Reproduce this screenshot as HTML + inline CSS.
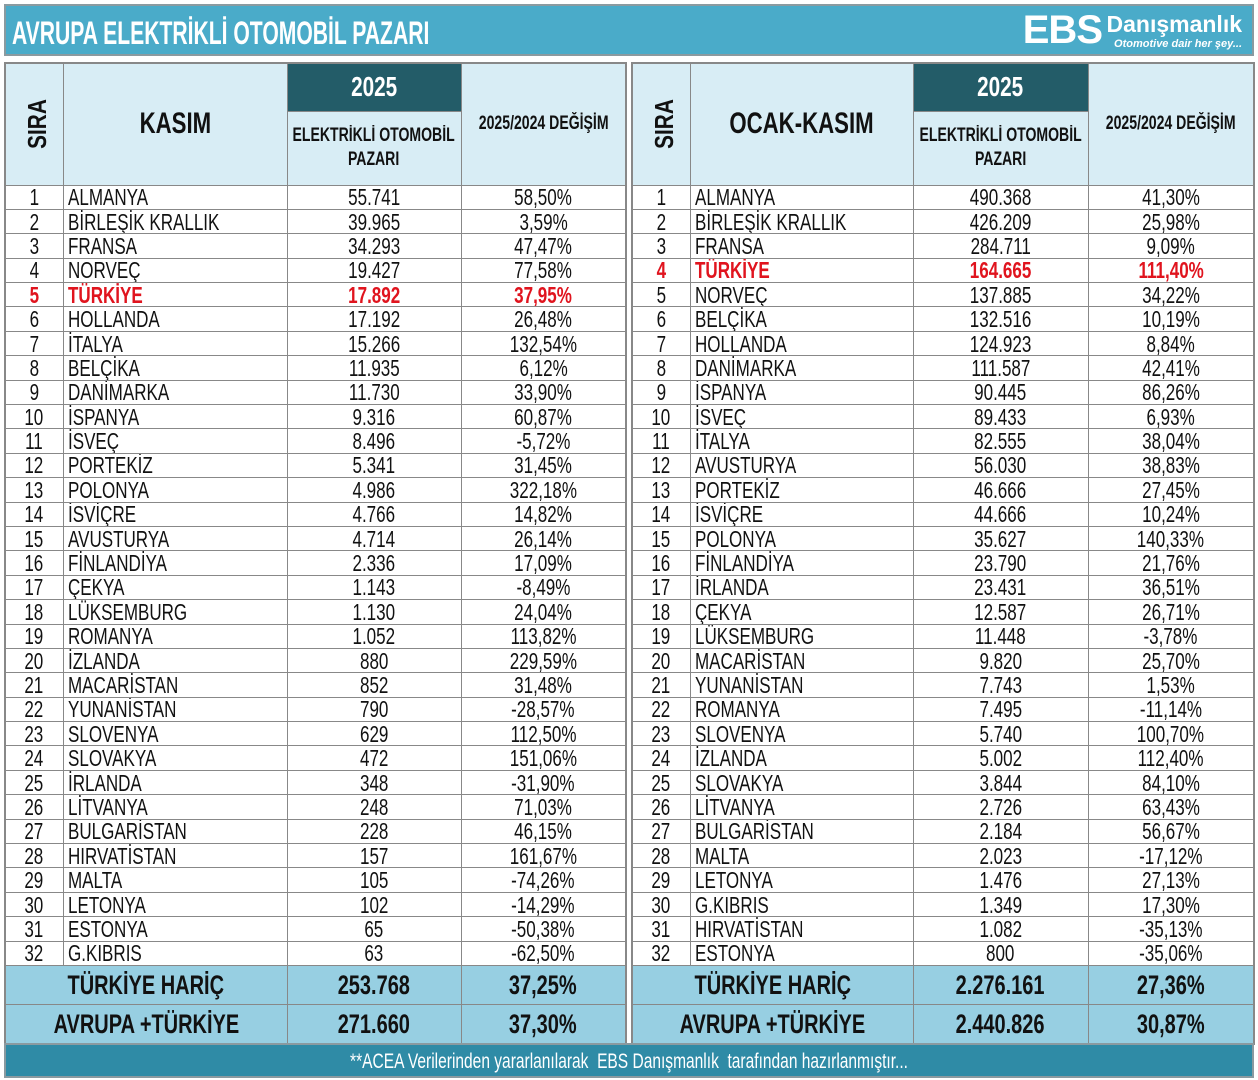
<!DOCTYPE html>
<html><head><meta charset="utf-8"><style>
*{margin:0;padding:0;box-sizing:border-box}
body{width:1258px;height:1080px;background:#fff;position:relative;overflow:hidden;font-family:"Liberation Sans",sans-serif;color:#111}
span{display:inline-block;transform:scaleX(.74);transform-origin:center}
td.c span{transform-origin:left}
td.sm span,td.big span,tr.s span{margin:0 -60px}
.title{position:absolute;left:4px;top:4px;width:1250px;height:52px;background:#4aabc9;border:2px solid #8a9aa0}
.title .t{position:absolute;left:6px;top:9px;font-size:32px;font-weight:bold;color:#fff;transform:scaleX(.66);transform-origin:left;white-space:nowrap}
.logo{position:absolute;right:8px;top:4px;color:#fff}
.logo .e{position:absolute;right:142px;top:-2px;font-size:40px;font-weight:bold;letter-spacing:-1px}
.logo .d{position:absolute;right:2px;top:1px;font-size:23px;font-weight:bold;white-space:nowrap}
.logo .s{position:absolute;right:2px;top:28px;font-size:11px;font-style:italic;font-weight:bold;white-space:nowrap}
table{position:absolute;top:62px;border-collapse:collapse;table-layout:fixed;border:2px solid #888}
td{border:1px solid #888;font-size:23px;height:24.4px;line-height:22px;padding:0;white-space:nowrap;overflow:hidden}
td.n{text-align:center}
td.c{padding-left:4px}
tr.h td{background:#d8edf5;font-weight:bold;text-align:center}
td.yr{background:#235c68!important;color:#fff;font-size:28px;height:48px}
td.big{font-size:30px}
td.sm{font-size:19px;line-height:24px}
.sira{transform:rotate(-90deg) scaleX(.8);font-size:26px;font-weight:bold}
tr.r td{color:#e0141e;font-weight:bold}
tr.s td{background:#97cfe2;font-weight:bold;font-size:27px;text-align:center;height:39px}
.foot{position:absolute;left:4px;top:1043px;width:1250px;height:35px;background:#2f8ba6;color:#fff;text-align:center;font-size:21px;line-height:33px;border:2px solid #8a9aa0}
</style></head><body>
<div class="title"><div class="t">AVRUPA ELEKTRİKLİ OTOMOBİL PAZARI</div>
<div class="logo"><div class="e">EBS</div><div class="d">Danışmanlık</div><div class="s">Otomotive dair her şey...</div></div></div>

<table style="left:4px;width:621px">
<colgroup><col style="width:58px"><col style="width:224px"><col style="width:174px"><col style="width:165px"></colgroup>
<tr class="h"><td rowspan="2" style="height:122px"><span class="sira">SIRA</span></td><td rowspan="2" class="big"><span>KASIM</span></td><td class="yr"><span>2025</span></td><td rowspan="2" class="sm"><span>2025/2024 DEĞİŞİM</span></td></tr>
<tr class="h"><td class="sm" style="height:74px"><span>ELEKTRİKLİ OTOMOBİL<br>PAZARI</span></td></tr>
<tr><td class="n"><span>1</span></td><td class="c"><span>ALMANYA</span></td><td class="n"><span>55.741</span></td><td class="n"><span>58,50%</span></td></tr>
<tr><td class="n"><span>2</span></td><td class="c"><span>BİRLEŞİK KRALLIK</span></td><td class="n"><span>39.965</span></td><td class="n"><span>3,59%</span></td></tr>
<tr><td class="n"><span>3</span></td><td class="c"><span>FRANSA</span></td><td class="n"><span>34.293</span></td><td class="n"><span>47,47%</span></td></tr>
<tr><td class="n"><span>4</span></td><td class="c"><span>NORVEÇ</span></td><td class="n"><span>19.427</span></td><td class="n"><span>77,58%</span></td></tr>
<tr class="r"><td class="n"><span>5</span></td><td class="c"><span>TÜRKİYE</span></td><td class="n"><span>17.892</span></td><td class="n"><span>37,95%</span></td></tr>
<tr><td class="n"><span>6</span></td><td class="c"><span>HOLLANDA</span></td><td class="n"><span>17.192</span></td><td class="n"><span>26,48%</span></td></tr>
<tr><td class="n"><span>7</span></td><td class="c"><span>İTALYA</span></td><td class="n"><span>15.266</span></td><td class="n"><span>132,54%</span></td></tr>
<tr><td class="n"><span>8</span></td><td class="c"><span>BELÇİKA</span></td><td class="n"><span>11.935</span></td><td class="n"><span>6,12%</span></td></tr>
<tr><td class="n"><span>9</span></td><td class="c"><span>DANİMARKA</span></td><td class="n"><span>11.730</span></td><td class="n"><span>33,90%</span></td></tr>
<tr><td class="n"><span>10</span></td><td class="c"><span>İSPANYA</span></td><td class="n"><span>9.316</span></td><td class="n"><span>60,87%</span></td></tr>
<tr><td class="n"><span>11</span></td><td class="c"><span>İSVEÇ</span></td><td class="n"><span>8.496</span></td><td class="n"><span>-5,72%</span></td></tr>
<tr><td class="n"><span>12</span></td><td class="c"><span>PORTEKİZ</span></td><td class="n"><span>5.341</span></td><td class="n"><span>31,45%</span></td></tr>
<tr><td class="n"><span>13</span></td><td class="c"><span>POLONYA</span></td><td class="n"><span>4.986</span></td><td class="n"><span>322,18%</span></td></tr>
<tr><td class="n"><span>14</span></td><td class="c"><span>İSVİÇRE</span></td><td class="n"><span>4.766</span></td><td class="n"><span>14,82%</span></td></tr>
<tr><td class="n"><span>15</span></td><td class="c"><span>AVUSTURYA</span></td><td class="n"><span>4.714</span></td><td class="n"><span>26,14%</span></td></tr>
<tr><td class="n"><span>16</span></td><td class="c"><span>FİNLANDİYA</span></td><td class="n"><span>2.336</span></td><td class="n"><span>17,09%</span></td></tr>
<tr><td class="n"><span>17</span></td><td class="c"><span>ÇEKYA</span></td><td class="n"><span>1.143</span></td><td class="n"><span>-8,49%</span></td></tr>
<tr><td class="n"><span>18</span></td><td class="c"><span>LÜKSEMBURG</span></td><td class="n"><span>1.130</span></td><td class="n"><span>24,04%</span></td></tr>
<tr><td class="n"><span>19</span></td><td class="c"><span>ROMANYA</span></td><td class="n"><span>1.052</span></td><td class="n"><span>113,82%</span></td></tr>
<tr><td class="n"><span>20</span></td><td class="c"><span>İZLANDA</span></td><td class="n"><span>880</span></td><td class="n"><span>229,59%</span></td></tr>
<tr><td class="n"><span>21</span></td><td class="c"><span>MACARİSTAN</span></td><td class="n"><span>852</span></td><td class="n"><span>31,48%</span></td></tr>
<tr><td class="n"><span>22</span></td><td class="c"><span>YUNANİSTAN</span></td><td class="n"><span>790</span></td><td class="n"><span>-28,57%</span></td></tr>
<tr><td class="n"><span>23</span></td><td class="c"><span>SLOVENYA</span></td><td class="n"><span>629</span></td><td class="n"><span>112,50%</span></td></tr>
<tr><td class="n"><span>24</span></td><td class="c"><span>SLOVAKYA</span></td><td class="n"><span>472</span></td><td class="n"><span>151,06%</span></td></tr>
<tr><td class="n"><span>25</span></td><td class="c"><span>İRLANDA</span></td><td class="n"><span>348</span></td><td class="n"><span>-31,90%</span></td></tr>
<tr><td class="n"><span>26</span></td><td class="c"><span>LİTVANYA</span></td><td class="n"><span>248</span></td><td class="n"><span>71,03%</span></td></tr>
<tr><td class="n"><span>27</span></td><td class="c"><span>BULGARİSTAN</span></td><td class="n"><span>228</span></td><td class="n"><span>46,15%</span></td></tr>
<tr><td class="n"><span>28</span></td><td class="c"><span>HIRVATİSTAN</span></td><td class="n"><span>157</span></td><td class="n"><span>161,67%</span></td></tr>
<tr><td class="n"><span>29</span></td><td class="c"><span>MALTA</span></td><td class="n"><span>105</span></td><td class="n"><span>-74,26%</span></td></tr>
<tr><td class="n"><span>30</span></td><td class="c"><span>LETONYA</span></td><td class="n"><span>102</span></td><td class="n"><span>-14,29%</span></td></tr>
<tr><td class="n"><span>31</span></td><td class="c"><span>ESTONYA</span></td><td class="n"><span>65</span></td><td class="n"><span>-50,38%</span></td></tr>
<tr><td class="n"><span>32</span></td><td class="c"><span>G.KIBRIS</span></td><td class="n"><span>63</span></td><td class="n"><span>-62,50%</span></td></tr>
<tr class="s"><td colspan="2"><span>TÜRKİYE HARİÇ</span></td><td><span>253.768</span></td><td><span>37,25%</span></td></tr>
<tr class="s"><td colspan="2"><span>AVRUPA +TÜRKİYE</span></td><td><span>271.660</span></td><td><span>37,30%</span></td></tr>
</table>

<table style="left:631px;width:622px">
<colgroup><col style="width:58px"><col style="width:223px"><col style="width:175px"><col style="width:166px"></colgroup>
<tr class="h"><td rowspan="2" style="height:122px"><span class="sira">SIRA</span></td><td rowspan="2" class="big"><span>OCAK-KASIM</span></td><td class="yr"><span>2025</span></td><td rowspan="2" class="sm"><span>2025/2024 DEĞİŞİM</span></td></tr>
<tr class="h"><td class="sm" style="height:74px"><span>ELEKTRİKLİ OTOMOBİL<br>PAZARI</span></td></tr>
<tr><td class="n"><span>1</span></td><td class="c"><span>ALMANYA</span></td><td class="n"><span>490.368</span></td><td class="n"><span>41,30%</span></td></tr>
<tr><td class="n"><span>2</span></td><td class="c"><span>BİRLEŞİK KRALLIK</span></td><td class="n"><span>426.209</span></td><td class="n"><span>25,98%</span></td></tr>
<tr><td class="n"><span>3</span></td><td class="c"><span>FRANSA</span></td><td class="n"><span>284.711</span></td><td class="n"><span>9,09%</span></td></tr>
<tr class="r"><td class="n"><span>4</span></td><td class="c"><span>TÜRKİYE</span></td><td class="n"><span>164.665</span></td><td class="n"><span>111,40%</span></td></tr>
<tr><td class="n"><span>5</span></td><td class="c"><span>NORVEÇ</span></td><td class="n"><span>137.885</span></td><td class="n"><span>34,22%</span></td></tr>
<tr><td class="n"><span>6</span></td><td class="c"><span>BELÇİKA</span></td><td class="n"><span>132.516</span></td><td class="n"><span>10,19%</span></td></tr>
<tr><td class="n"><span>7</span></td><td class="c"><span>HOLLANDA</span></td><td class="n"><span>124.923</span></td><td class="n"><span>8,84%</span></td></tr>
<tr><td class="n"><span>8</span></td><td class="c"><span>DANİMARKA</span></td><td class="n"><span>111.587</span></td><td class="n"><span>42,41%</span></td></tr>
<tr><td class="n"><span>9</span></td><td class="c"><span>İSPANYA</span></td><td class="n"><span>90.445</span></td><td class="n"><span>86,26%</span></td></tr>
<tr><td class="n"><span>10</span></td><td class="c"><span>İSVEÇ</span></td><td class="n"><span>89.433</span></td><td class="n"><span>6,93%</span></td></tr>
<tr><td class="n"><span>11</span></td><td class="c"><span>İTALYA</span></td><td class="n"><span>82.555</span></td><td class="n"><span>38,04%</span></td></tr>
<tr><td class="n"><span>12</span></td><td class="c"><span>AVUSTURYA</span></td><td class="n"><span>56.030</span></td><td class="n"><span>38,83%</span></td></tr>
<tr><td class="n"><span>13</span></td><td class="c"><span>PORTEKİZ</span></td><td class="n"><span>46.666</span></td><td class="n"><span>27,45%</span></td></tr>
<tr><td class="n"><span>14</span></td><td class="c"><span>İSVİÇRE</span></td><td class="n"><span>44.666</span></td><td class="n"><span>10,24%</span></td></tr>
<tr><td class="n"><span>15</span></td><td class="c"><span>POLONYA</span></td><td class="n"><span>35.627</span></td><td class="n"><span>140,33%</span></td></tr>
<tr><td class="n"><span>16</span></td><td class="c"><span>FİNLANDİYA</span></td><td class="n"><span>23.790</span></td><td class="n"><span>21,76%</span></td></tr>
<tr><td class="n"><span>17</span></td><td class="c"><span>İRLANDA</span></td><td class="n"><span>23.431</span></td><td class="n"><span>36,51%</span></td></tr>
<tr><td class="n"><span>18</span></td><td class="c"><span>ÇEKYA</span></td><td class="n"><span>12.587</span></td><td class="n"><span>26,71%</span></td></tr>
<tr><td class="n"><span>19</span></td><td class="c"><span>LÜKSEMBURG</span></td><td class="n"><span>11.448</span></td><td class="n"><span>-3,78%</span></td></tr>
<tr><td class="n"><span>20</span></td><td class="c"><span>MACARİSTAN</span></td><td class="n"><span>9.820</span></td><td class="n"><span>25,70%</span></td></tr>
<tr><td class="n"><span>21</span></td><td class="c"><span>YUNANİSTAN</span></td><td class="n"><span>7.743</span></td><td class="n"><span>1,53%</span></td></tr>
<tr><td class="n"><span>22</span></td><td class="c"><span>ROMANYA</span></td><td class="n"><span>7.495</span></td><td class="n"><span>-11,14%</span></td></tr>
<tr><td class="n"><span>23</span></td><td class="c"><span>SLOVENYA</span></td><td class="n"><span>5.740</span></td><td class="n"><span>100,70%</span></td></tr>
<tr><td class="n"><span>24</span></td><td class="c"><span>İZLANDA</span></td><td class="n"><span>5.002</span></td><td class="n"><span>112,40%</span></td></tr>
<tr><td class="n"><span>25</span></td><td class="c"><span>SLOVAKYA</span></td><td class="n"><span>3.844</span></td><td class="n"><span>84,10%</span></td></tr>
<tr><td class="n"><span>26</span></td><td class="c"><span>LİTVANYA</span></td><td class="n"><span>2.726</span></td><td class="n"><span>63,43%</span></td></tr>
<tr><td class="n"><span>27</span></td><td class="c"><span>BULGARİSTAN</span></td><td class="n"><span>2.184</span></td><td class="n"><span>56,67%</span></td></tr>
<tr><td class="n"><span>28</span></td><td class="c"><span>MALTA</span></td><td class="n"><span>2.023</span></td><td class="n"><span>-17,12%</span></td></tr>
<tr><td class="n"><span>29</span></td><td class="c"><span>LETONYA</span></td><td class="n"><span>1.476</span></td><td class="n"><span>27,13%</span></td></tr>
<tr><td class="n"><span>30</span></td><td class="c"><span>G.KIBRIS</span></td><td class="n"><span>1.349</span></td><td class="n"><span>17,30%</span></td></tr>
<tr><td class="n"><span>31</span></td><td class="c"><span>HIRVATİSTAN</span></td><td class="n"><span>1.082</span></td><td class="n"><span>-35,13%</span></td></tr>
<tr><td class="n"><span>32</span></td><td class="c"><span>ESTONYA</span></td><td class="n"><span>800</span></td><td class="n"><span>-35,06%</span></td></tr>
<tr class="s"><td colspan="2"><span>TÜRKİYE HARİÇ</span></td><td><span>2.276.161</span></td><td><span>27,36%</span></td></tr>
<tr class="s"><td colspan="2"><span>AVRUPA +TÜRKİYE</span></td><td><span>2.440.826</span></td><td><span>30,87%</span></td></tr>
</table>

<div class="foot"><span>**ACEA Verilerinden yararlanılarak&nbsp; EBS Danışmanlık&nbsp; tarafından hazırlanmıştır...</span></div>
</body></html>
